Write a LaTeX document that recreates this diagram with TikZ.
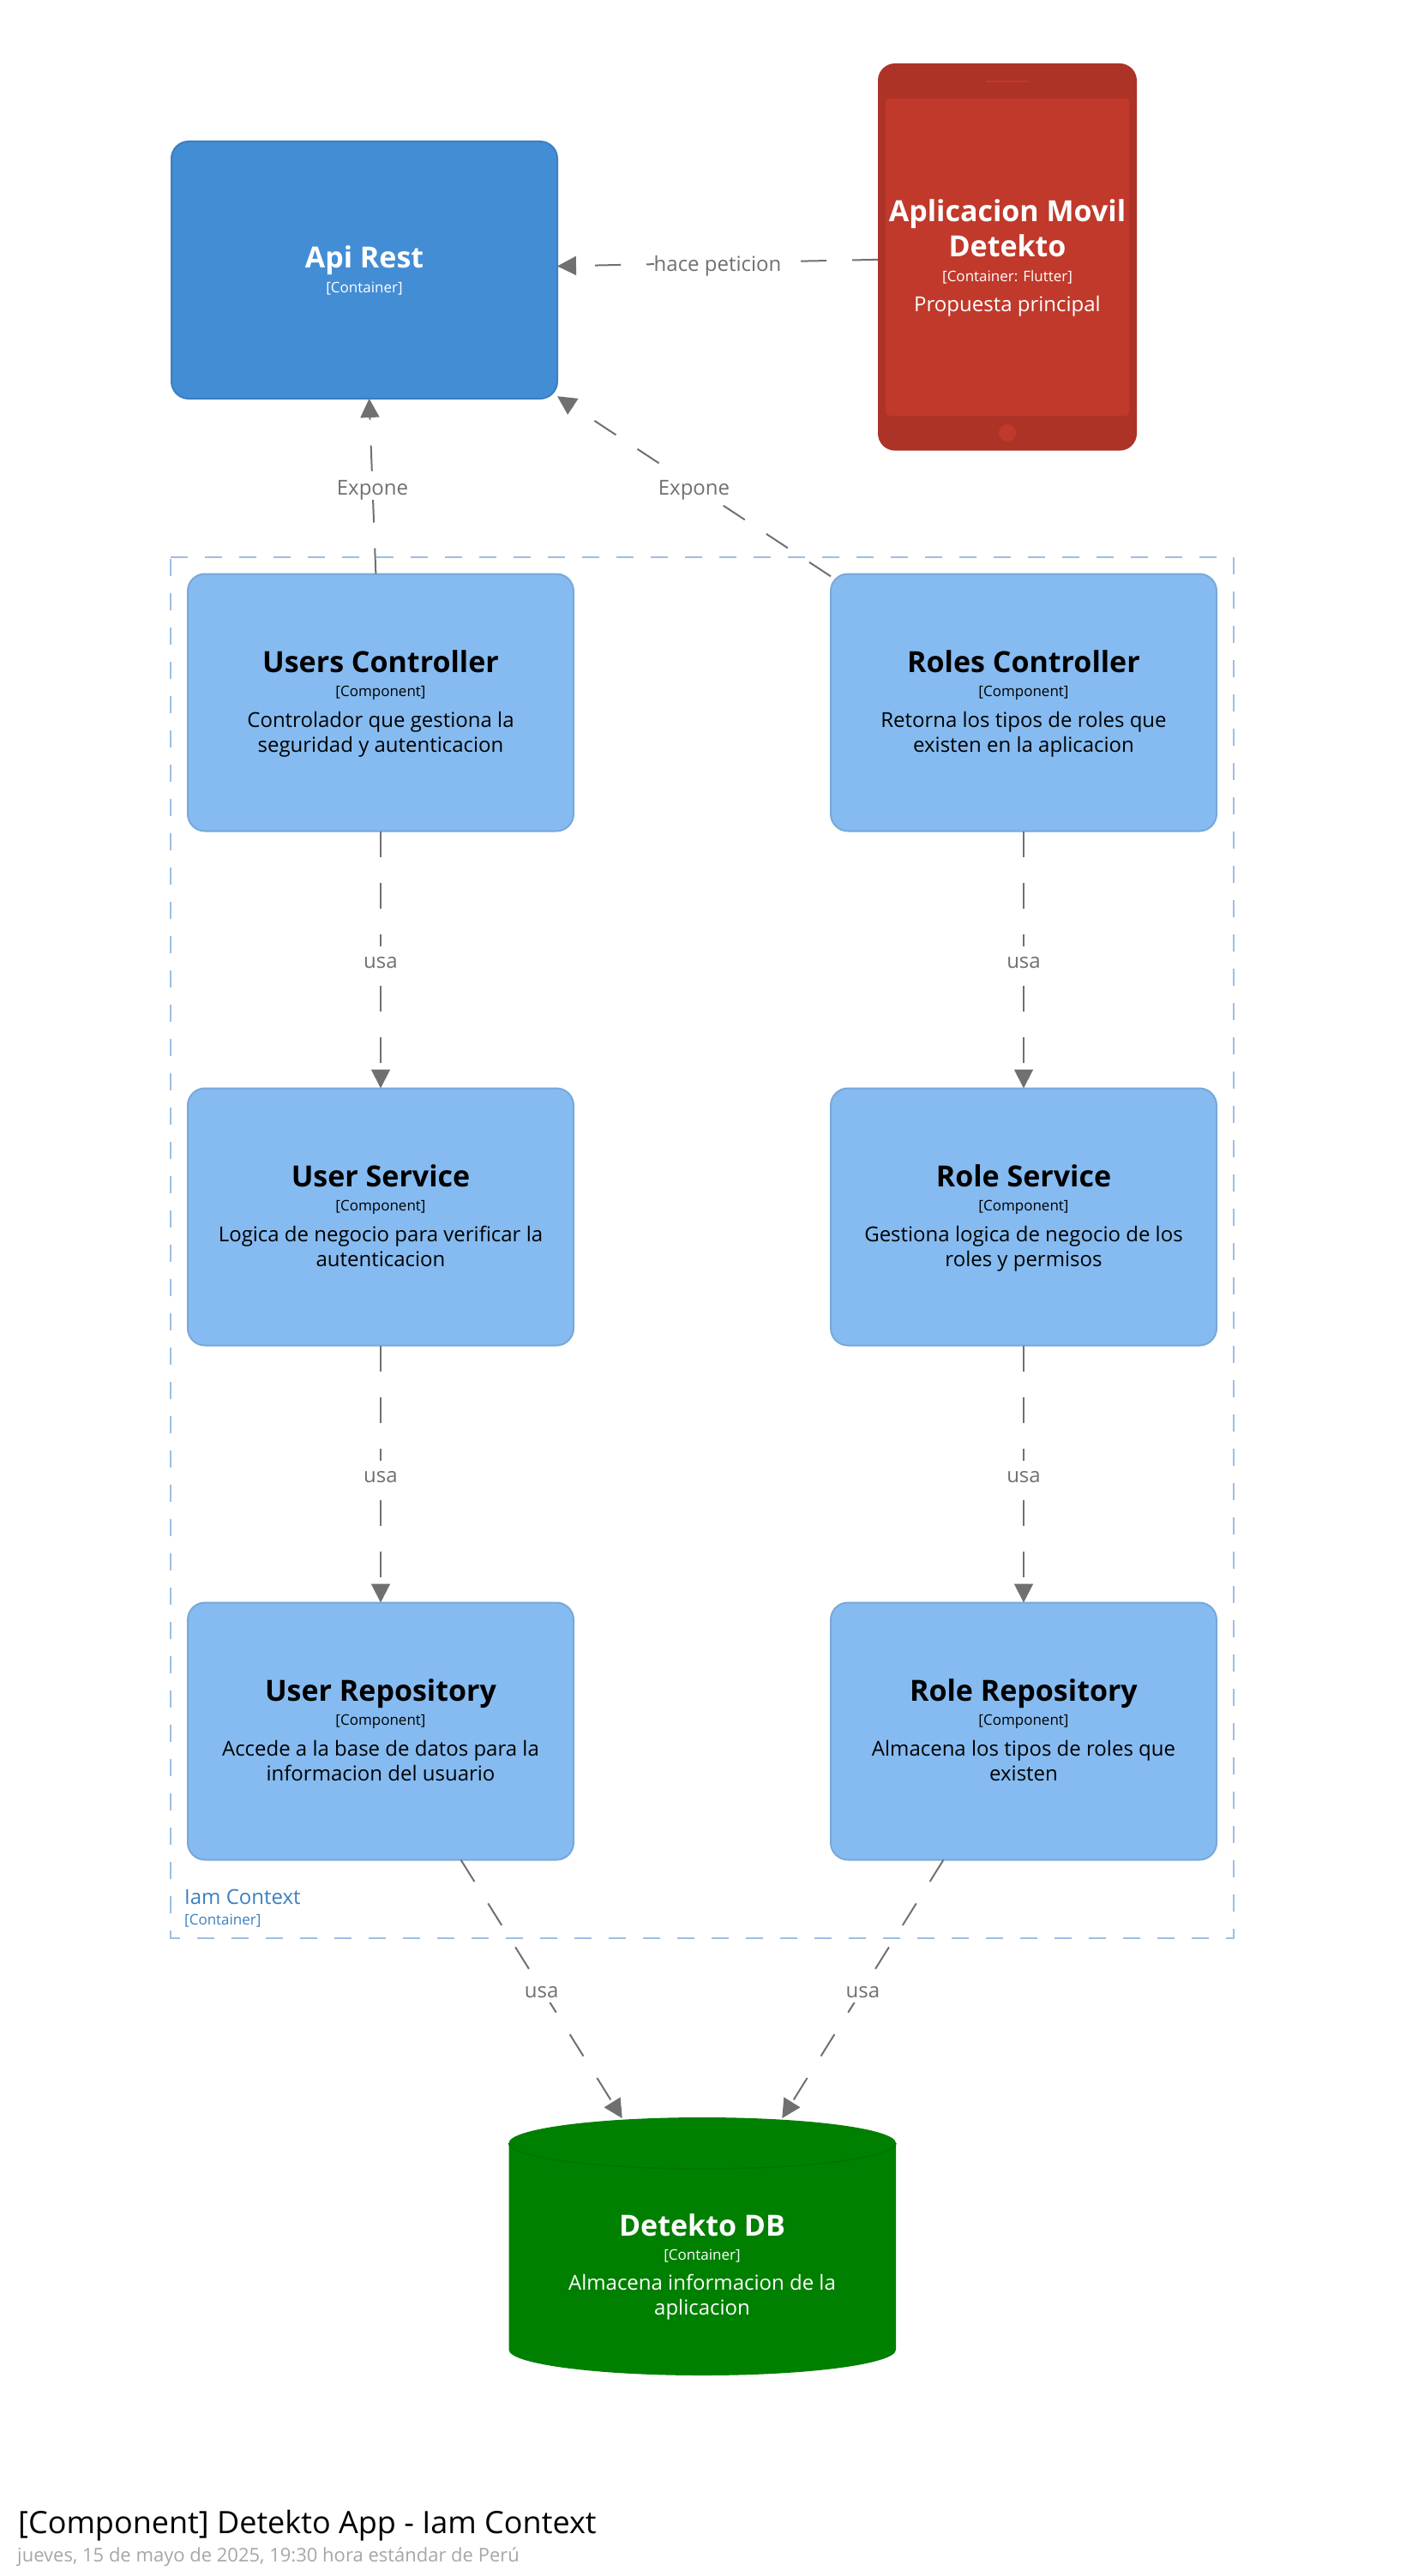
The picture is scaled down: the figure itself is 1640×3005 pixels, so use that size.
\documentclass[tikz,border=0pt]{standalone}
\usepackage{fontspec}
\setmainfont{Open Sans}
\usetikzlibrary{arrows.meta}
\setlength{\parindent}{0pt}
\tikzset{
  compbox/.style={draw=cmpborder, fill=cmpfill, line width=2pt, rounded corners=20pt, minimum width=450pt, minimum height=300pt, text=black, align=flush center, outer sep=0pt, text width=420pt},
  contbox/.style={draw=apiborder, fill=apifill, line width=2pt, rounded corners=20pt, minimum width=450pt, minimum height=300pt, text=white, align=flush center, outer sep=0pt, text width=420pt},
  uses/.style={draw=linegray, line width=2pt, dash pattern=on 30pt off 30pt, -{Triangle[width=22pt,length=22pt]}},
  uselabel/.style={midway, fill=white, text=linegray, inner xsep=0pt, inner ysep=0pt, text height=26pt, text depth=6pt, font=\fontsize{24pt}{29pt}\selectfont},
}
\definecolor{cmpfill}{HTML}{85BBF0}
\definecolor{cmpborder}{HTML}{78A8D8}
\definecolor{apifill}{HTML}{438DD5}
\definecolor{apiborder}{HTML}{3C7FC0}
\definecolor{phoneframe}{HTML}{AD3327}
\definecolor{phonefill}{HTML}{C0392B}
\definecolor{dbfill}{HTML}{008000}
\definecolor{dbline}{HTML}{007300}
\definecolor{linegray}{HTML}{707070}
\definecolor{groupblue}{HTML}{9DBEE2}
\definecolor{grouptext}{HTML}{3C7FC0}
\definecolor{dategray}{HTML}{A6A6A6}
\newcommand{\boxhead}[2]{{\fontsize{34pt}{41pt}\selectfont\bfseries\rule{0pt}{29.7pt}#1\par}
  {\fontsize{17pt}{28.3pt}\selectfont\rule[-6pt]{0pt}{6pt}#2\par}}
\newcommand{\boxtext}[3]{\boxhead{#1}{#2}\vskip 6.6pt
  {\fontsize{24pt}{28.8pt}\selectfont #3\rule[-7pt]{0pt}{7pt}\par}}
\begin{document}
\begin{tikzpicture}[x=1pt,y=-1pt]
\useasboundingbox (0,0) rectangle (1640,3005);
% group
\draw[groupblue, line width=2pt, dash pattern=on 20pt off 20pt] (199,650) -- (1439,650) -- (1439,2261) -- (199,2261) -- cycle;
\node[anchor=base west, text=grouptext, inner sep=0pt, font=\fontsize{24pt}{29pt}\selectfont] (groupName) at (215,2221.7) {Iam Context};
\node[anchor=base west, text=grouptext, inner sep=0pt, font=\fontsize{17pt}{22pt}\selectfont] (groupMeta) at (215,2245) {[Container]};
% top row
\node[contbox] (apiRest) at (425,315) {\boxhead{Api Rest}{[Container]}};
\node[fill=phoneframe, rounded corners=20pt, minimum width=302pt, minimum height=451.7pt, outer sep=0pt] (movil) at (1175,299.8) {};
\node[fill=phonefill, rounded corners=4pt, minimum width=280pt, minimum height=370pt, text width=284pt, inner sep=0pt, text=white, align=flush center] (movilScreen) at (movil) {\boxtext{Aplicacion Movil\\Detekto}{[Container: Flutter]}{Propuesta principal}};
\fill[phonefill] (1150,94) rectangle (1200,96);
\node[fill=phonefill, circle, minimum size=20pt, inner sep=0pt] (movilBtn) at (1175,505) {};
% components
\node[compbox] (usersCtrl) at (444,819.5) {\boxtext{Users Controller}{[Component]}{Controlador que gestiona la\\seguridad y autenticacion}};
\node[compbox] (rolesCtrl) at (1194,819.5) {\boxtext{Roles Controller}{[Component]}{Retorna los tipos de roles que\\existen en la aplicacion}};
\node[compbox] (userSrv) at (444,1419.5) {\boxtext{User Service}{[Component]}{Logica de negocio para verificar la\\autenticacion}};
\node[compbox] (roleSrv) at (1194,1419.5) {\boxtext{Role Service}{[Component]}{Gestiona logica de negocio de los\\roles y permisos}};
\node[compbox] (userRepo) at (444,2019.5) {\boxtext{User Repository}{[Component]}{Accede a la base de datos para la\\informacion del usuario}};
\node[compbox] (roleRepo) at (1194,2019.5) {\boxtext{Role Repository}{[Component]}{Almacena los tipos de roles que\\existen}};
% database
\fill[dbfill] (593.5,2500) arc[start angle=180, end angle=360, x radius=225.75, y radius=30] -- (1045,2741) arc[start angle=0, end angle=180, x radius=225.75, y radius=30] -- cycle;
\draw[dbline, line width=1.5pt] (593.5,2500) arc[start angle=180, end angle=0, x radius=225.75, y radius=30];
\node[minimum width=451pt, minimum height=299pt, outer sep=0pt] (detektoDb) at (819,2620.5) {};
\node[text=white, align=flush center, text width=420pt, inner sep=0pt] (detektoText) at (819,2643) {\boxtext{Detekto DB}{[Container]}{Almacena informacion de la\\aplicacion}};
% connectors
\path[uses] (movil) -- node[uselabel] {hace peticion} (apiRest);
\path[uses] (usersCtrl) -- node[uselabel] {Expone} (apiRest);
\path[uses] (rolesCtrl) -- node[uselabel] {Expone} (apiRest);
\path[uses] (usersCtrl) -- node[uselabel] {usa} (userSrv);
\path[uses] (rolesCtrl) -- node[uselabel] {usa} (roleSrv);
\path[uses] (userSrv) -- node[uselabel] {usa} (userRepo);
\path[uses] (roleSrv) -- node[uselabel] {usa} (roleRepo);
\path[uses] (userRepo) -- node[uselabel] {usa} (detektoDb);
\path[uses] (roleRepo) -- node[uselabel] {usa} (detektoDb);
% caption
\node[anchor=west, inner sep=0pt, font=\fontsize{36pt}{43pt}\selectfont] (diagTitle) at (21,2946) {[Component] Detekto App - Iam Context};
\node[anchor=west, inner sep=0pt, text=dategray, font=\fontsize{22pt}{27pt}\selectfont] (diagDate) at (20,2982.5) {jueves, 15 de mayo de 2025, 19:30 hora estándar de Perú};
\end{tikzpicture}
\end{document}
